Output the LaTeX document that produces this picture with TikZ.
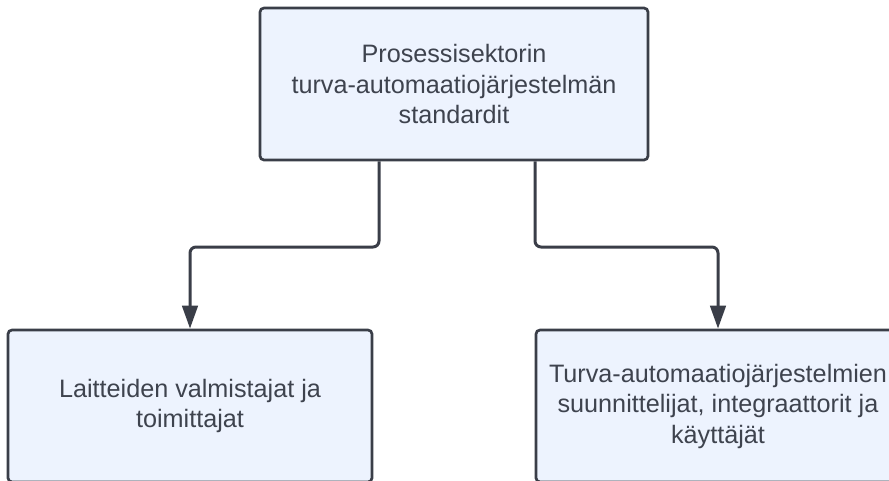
\documentclass[tikz,border=0pt]{standalone}
\usepackage{fontspec}
\setmainfont{Liberation Sans}
\usetikzlibrary{arrows.meta}
\definecolor{boxfill}{RGB}{237,243,254}
\definecolor{ink}{RGB}{58,62,72}
\definecolor{txt}{RGB}{62,67,78}
\tikzset{
  stdbox/.style={draw=ink, fill=boxfill, line width=2.7pt, rounded corners=4pt,
    minimum height=152pt, inner sep=0pt, align=center, text=txt,
    font=\fontsize{25.2pt}{30.5pt}\selectfont},
  conn/.style={draw=ink, line width=3pt, rounded corners=6pt,
    -{Triangle[length=23pt,width=15.5pt]}},
}
\begin{document}
\begin{tikzpicture}[x=1pt,y=-1pt]
  \useasboundingbox (0,0) rectangle (889,480);
  \clip (0,0) rectangle (889,480);
  % standards box and the two parties that follow them
  \node[stdbox, minimum width=388pt] (top) at (454,84)
    {Prosessisektorin\\turva-automaatiojärjestelmän\\standardit};
  \node[stdbox, minimum width=364pt] (left) at (190,406)
    {Laitteiden valmistajat ja\\toimittajat};
  \node[stdbox, minimum width=364pt] (right) at (718,406)
    {Turva-automaatiojärjestelmien\\suunnittelijat, integraattorit ja\\käyttäjät};
  % branch points of the elbow connectors
  \coordinate (ja) at (379,247);
  \coordinate (jb) at (535,247);
  \draw[conn] (top.south -| ja) |- (left.north |- ja) -- (left.north);
  \draw[conn] (top.south -| jb) |- (right.north |- jb) -- (right.north);
\end{tikzpicture}
\end{document}
